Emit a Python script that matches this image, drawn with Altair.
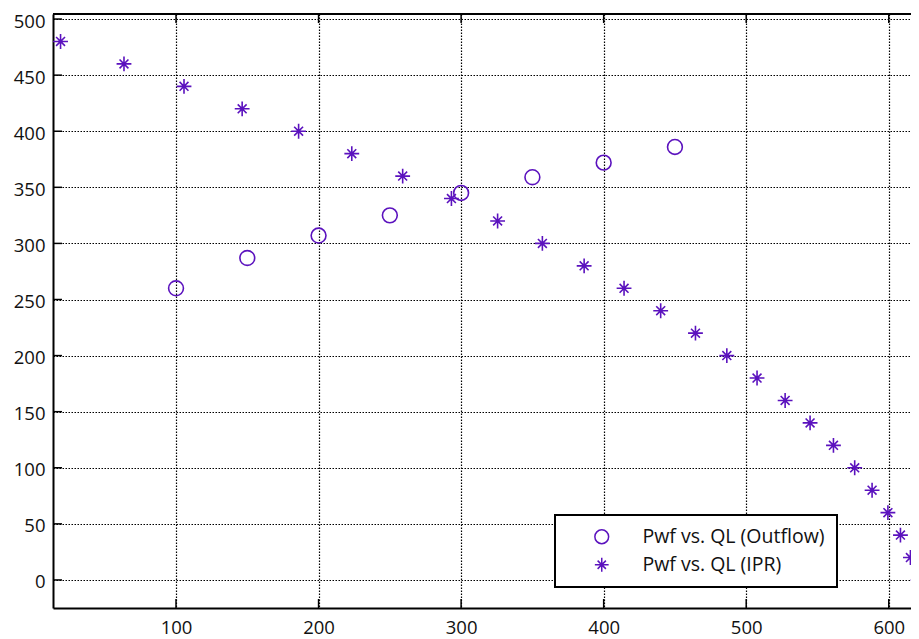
import altair as alt
import pandas as pd

# ---- data ----
outflow_ql = [100, 150, 200, 250, 300, 350, 400, 450]
outflow_pwf = [260, 287, 307, 325, 345, 359, 372, 386]

ipr_pwf = [480, 460, 440, 420, 400, 380, 360, 340, 320, 300, 280, 260, 240,
           220, 200, 180, 160, 140, 120, 100, 80, 60, 40, 20, 0]
ipr_ql = [19.0, 63.5, 105.6, 146.4, 186.0, 223.3, 259.0, 293.2, 325.6, 357.0,
          386.3, 414.3, 440.0, 464.4, 486.4, 507.6, 527.3, 544.8, 561.2, 576.1,
          588.3, 599.4, 608.2, 615.2, 620.6]

series_labels = ["Pwf vs. QL (Outflow)", "Pwf vs. QL (IPR)"]
x_ticks = [100, 200, 300, 400, 500, 600]
y_ticks = [0, 50, 100, 150, 200, 250, 300, 350, 400, 450, 500]

# ---- styling ----
PURPLE = "#5B12BE"
STAR = "M-1,0L1,0M0,-1L0,1M-0.6,-0.6L0.6,0.6M-0.6,0.6L0.6,-0.6"
FONT = "Open Sans"
W, H = 858, 594

df = pd.concat([
    pd.DataFrame({"ql": outflow_ql, "pwf": outflow_pwf, "series": series_labels[0]}),
    pd.DataFrame({"ql": ipr_ql, "pwf": ipr_pwf, "series": series_labels[1]}),
])

xs = alt.Scale(domain=[13.7, 615.6], nice=False, zero=False)
ys = alt.Scale(domain=[-25, 504.5], nice=False, zero=False)

x_axis = alt.Axis(values=x_ticks, grid=True, ticks=False, tickSize=0,
                  labelPadding=10, labelBaseline="top")
y_axis = alt.Axis(values=y_ticks, grid=True, ticks=False, tickSize=0,
                  labelPadding=8, labelOffset=2)

points = alt.Chart(df).mark_point(
    filled=False, strokeWidth=1.6, color=PURPLE, opacity=1, clip=False, size=220
).encode(
    x=alt.X("ql:Q", scale=xs, title=None, axis=x_axis),
    y=alt.Y("pwf:Q", scale=ys, title=None, axis=y_axis),
    shape=alt.Shape("series:N",
                    scale=alt.Scale(domain=series_labels, range=["circle", STAR]),
                    legend=alt.Legend(orient="none", legendX=502, legendY=501,
                                      title=None, strokeColor="black",
                                      fillColor="white", padding=12,
                                      symbolOffset=25, labelOffset=31,
                                      rowPadding=7, symbolSize=190,
                                      symbolStrokeColor=PURPLE,
                                      symbolStrokeWidth=1.5,
                                      symbolFillColor="transparent",
                                      labelFont=FONT, labelFontSize=19.5,
                                      labelLimit=400,
                                      labelColor="#111")),
)

xt_df = pd.DataFrame({"v": x_ticks})
yt_df = pd.DataFrame({"v": y_ticks})

x_ticks_bottom = alt.Chart(xt_df).mark_rule(color="black", strokeWidth=1.5).encode(
    x=alt.X("v:Q", scale=xs, title=None, axis=x_axis), y=alt.value(H), y2=alt.value(H - 9))
x_ticks_top = alt.Chart(xt_df).mark_rule(color="black", strokeWidth=1.5).encode(
    x=alt.X("v:Q", scale=xs, title=None, axis=x_axis), y=alt.value(0), y2=alt.value(9))
y_ticks_left = alt.Chart(yt_df).mark_rule(color="black", strokeWidth=1.5).encode(
    y=alt.Y("v:Q", scale=ys, title=None, axis=y_axis), x=alt.value(0), x2=alt.value(9))
top_border = alt.Chart(xt_df).mark_rule(color="black", strokeWidth=2).encode(
    x=alt.value(0), x2=alt.value(W), y=alt.value(0))

chart = alt.layer(
    points, x_ticks_bottom, x_ticks_top, y_ticks_left, top_border
).properties(
    width=W, height=H,
    autosize=alt.AutoSizeParams(type="none"),
    padding={"left": 45, "top": 6, "right": 0, "bottom": 30},
    background="white",
).configure_view(
    stroke=None
).configure_axis(
    domainColor="black", domainWidth=2,
    gridColor="black", gridDash=[1.5, 1.5], gridWidth=1.2, gridOpacity=1,
    labelFont=FONT, labelFontSize=18.5, labelColor="#111",
).configure_legend(
    strokeWidth=2
)

chart.save("out.html", embed_options={"renderer": "svg", "actions": False})
